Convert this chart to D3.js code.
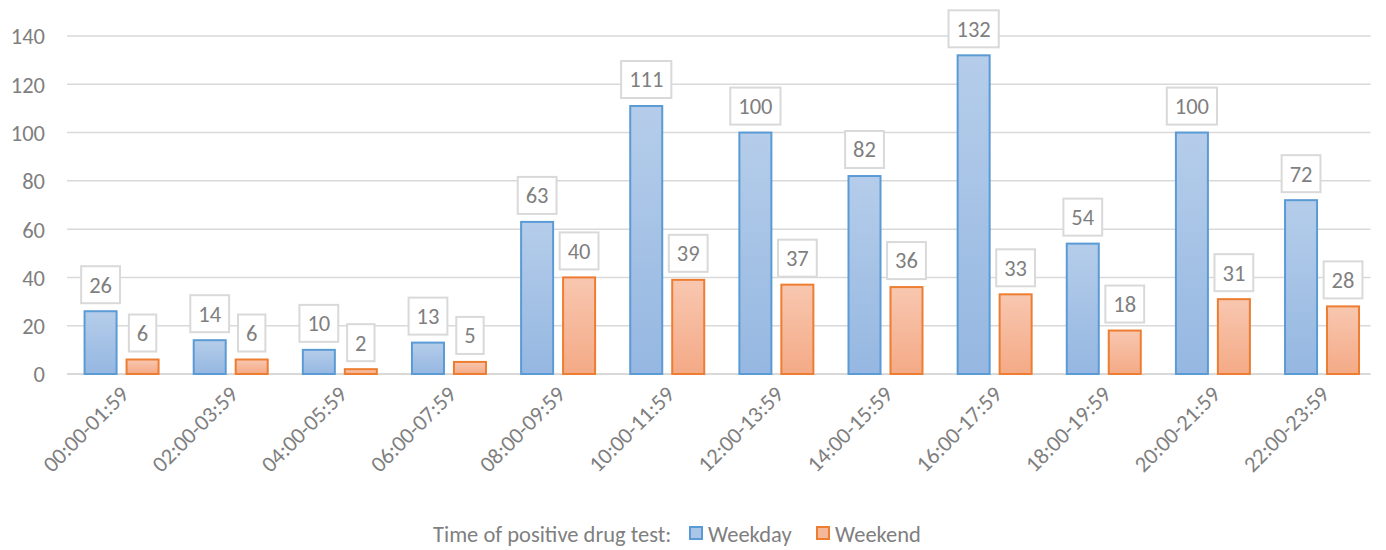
<!DOCTYPE html>
<html>
<head>
<meta charset="utf-8">
<script src="https://cdn.jsdelivr.net/npm/d3@7"></script>
<style>
  html, body { margin: 0; padding: 0; background: #fff; }
  svg { display: block; font-family: Carlito, Calibri, Lato, sans-serif; }
</style>
</head>
<body>
<svg id="chart" width="1386" height="550"></svg>
<script>
const categories = ["00:00-01:59","02:00-03:59","04:00-05:59","06:00-07:59","08:00-09:59","10:00-11:59","12:00-13:59","14:00-15:59","16:00-17:59","18:00-19:59","20:00-21:59","22:00-23:59"];
const weekday = [26,14,10,13,63,111,100,82,132,54,100,72];
const weekend = [6,6,2,5,40,39,37,36,33,18,31,28];
const seriesNames = ["Weekday","Weekend"];
const yTicks = [0,20,40,60,80,100,120,140];
const legendTitle = "Time of positive drug test:";

(function() {
const svg = d3.select("#chart");
const plotL = 67, plotR = 1376.6, plotT = 36, plotB = 374;
const fs = "22.5px";

const defs = svg.append("defs");
const gradBlue = defs.append("linearGradient").attr("id","gBlue").attr("x1",0).attr("y1",0).attr("x2",0).attr("y2",1);
gradBlue.append("stop").attr("offset","0%").attr("stop-color","#b5cdea");
gradBlue.append("stop").attr("offset","100%").attr("stop-color","#95b7e1");
const gradOrange = defs.append("linearGradient").attr("id","gOrange").attr("x1",0).attr("y1",0).attr("x2",0).attr("y2",1);
gradOrange.append("stop").attr("offset","0%").attr("stop-color","#f8c7b0");
gradOrange.append("stop").attr("offset","100%").attr("stop-color","#f4aa86");

const fills = {Weekday: "url(#gBlue)", Weekend: "url(#gOrange)"};
const strokes = {Weekday: "#5b9bd5", Weekend: "#ed7d31"};
const legendFills = {Weekday: "#a9c5e8", Weekend: "#f6b89a"};

const y = d3.scaleLinear().domain([0,140]).range([plotB, plotT]);
const x0 = d3.scaleBand().domain(categories).range([plotL, plotR]).padding(0);
const groupW = 76;
const x1 = d3.scaleBand().domain(seriesNames).range([0, groupW]).paddingInner(0.19).paddingOuter(0);
const off = (x0.bandwidth() - groupW) / 2;

// gridlines
svg.append("g").selectAll("line").data(yTicks).join("line")
  .attr("x1", plotL).attr("x2", plotR - 6)
  .attr("y1", d => y(d)).attr("y2", d => y(d))
  .attr("stroke", "#d9d9d9").attr("stroke-width", d => d === 0 ? 2 : 1.5);

// y axis labels
const yAxis = d3.axisLeft(y).tickValues(yTicks).tickSize(0).tickPadding(0);
const yg = svg.append("g").attr("transform", `translate(45,0)`).call(yAxis);
yg.select(".domain").remove();
yg.selectAll("text").attr("fill", "#7f7f7f").style("font-size", fs)
  .attr("dy", "0.35em").style("font-family", "Carlito, Calibri, Lato, sans-serif");

// bars
const data = categories.map((c, i) => ({cat: c, vals: [
  {s: "Weekday", v: weekday[i]}, {s: "Weekend", v: weekend[i]}]}));

const groups = svg.append("g").selectAll("g").data(data).join("g")
  .attr("transform", d => `translate(${x0(d.cat) + off},0)`);

groups.selectAll("rect").data(d => d.vals).join("rect")
  .attr("x", d => x1(d.s) + 1)
  .attr("width", x1.bandwidth() - 2)
  .attr("y", d => y(d.v))
  .attr("height", d => y(0) - y(d.v))
  .attr("fill", d => fills[d.s])
  .attr("stroke", d => strokes[d.s])
  .attr("stroke-width", 2);

// data labels in boxes
groups.each(function(d) {
  const g = d3.select(this);
  d.vals.forEach(p => {
    const cx = x1(p.s) + x1.bandwidth() / 2;
    const lg = g.append("g");
    const t = lg.append("text")
      .attr("x", cx)
      .attr("y", y(p.v) - 8 - 18.5)
      .attr("dy", "0.35em")
      .attr("text-anchor", "middle")
      .attr("fill", "#7f7f7f")
      .style("font-size", fs)
      .text(p.v);
    const tw = t.node().getComputedTextLength();
    const bw = tw + 16, bh = 37;
    lg.insert("rect", "text")
      .attr("x", cx - bw / 2)
      .attr("y", y(p.v) - 8 - bh)
      .attr("width", bw).attr("height", bh)
      .attr("fill", "#fff")
      .attr("stroke", "#d9d9d9").attr("stroke-width", 2);
  });
});

// x axis labels
const xg = svg.append("g");
xg.selectAll("text").data(categories).join("text")
  .attr("transform", d => `translate(${x0(d) + x0.bandwidth()/2 + 3},${plotB + 16}) rotate(-45)`)
  .attr("text-anchor", "end")
  .attr("dy", "0.35em")
  .attr("fill", "#7f7f7f")
  .style("font-size", fs)
  .text(d => d);

// legend
const leg = svg.append("g");
leg.append("text").attr("x", 433).attr("y", 534).attr("dy", "0.35em")
  .attr("fill", "#7f7f7f").style("font-size", fs).text(legendTitle);
const legendX = {Weekday: 689, Weekend: 816};
seriesNames.forEach(s => {
  leg.append("rect").attr("x", legendX[s] + 1).attr("y", 527).attr("width", 12).attr("height", 12)
    .attr("fill", legendFills[s]).attr("stroke", strokes[s]).attr("stroke-width", 2);
  leg.append("text").attr("x", legendX[s] + 19).attr("y", 534).attr("dy", "0.35em")
    .attr("fill", "#7f7f7f").style("font-size", fs).text(s);
});
})();
</script>
</body>
</html>
